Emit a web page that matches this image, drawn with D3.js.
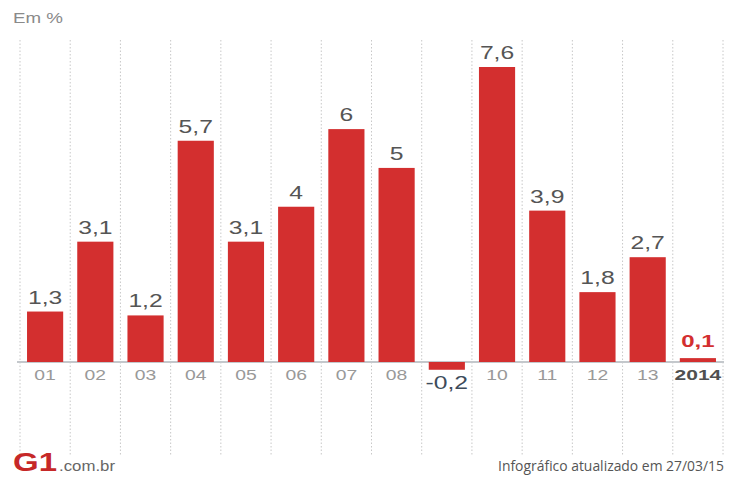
<!DOCTYPE html>
<html>
<head>
<meta charset="utf-8">
<script src="https://cdn.jsdelivr.net/npm/d3@7"></script>
<style>
  html, body { margin: 0; padding: 0; background: #fff; }
  svg { display: block; }
</style>
</head>
<body>
<script>
// Annual change, in percent
const categories = ["01", "02", "03", "04", "05", "06", "07", "08", "09", "10", "11", "12", "13", "2014"];
const values = [1.3, 3.1, 1.2, 5.7, 3.1, 4, 6, 5, -0.2, 7.6, 3.9, 1.8, 2.7, 0.1];
const valueLabels = ["1,3", "3,1", "1,2", "5,7", "3,1", "4", "6", "5", "-0,2", "7,6", "3,9", "1,8", "2,7", "0,1"];
// The negative year shows its value where its tick label would be
const tickLabels = ["01", "02", "03", "04", "05", "06", "07", "08", "", "10", "11", "12", "13", "2014"];

const W = 731, H = 477;
const svg = d3.select("body").append("svg").attr("width", W).attr("height", H);
const font = "'Liberation Sans', Arial, sans-serif";
const highlight = "2014";

const x = d3.scaleBand().domain(categories).range([20, 723]).paddingInner(0.28).paddingOuter(0.14);
const y = d3.scaleLinear().domain([0, 7.6]).range([362, 67]);

// dotted separators between columns
const step = x.step();
const first = x(categories[0]) - (step - x.bandwidth()) / 2;
const seps = d3.range(categories.length + 1).map(i => first + i * step);
svg.append("g").selectAll("line").data(seps).join("line")
  .attr("x1", d => d).attr("x2", d => d)
  .attr("y1", 40).attr("y2", 456)
  .attr("stroke", "#c8c8c8").attr("stroke-width", 1)
  .attr("stroke-dasharray", "1.5,2");

// zero line
svg.append("line")
  .attr("x1", 17).attr("x2", 724).attr("y1", y(0)).attr("y2", y(0))
  .attr("stroke", "#c4c8cc").attr("stroke-width", 2);

// bars
svg.append("g").selectAll("rect").data(values).join("rect")
  .attr("x", (d, i) => x(categories[i]))
  .attr("width", x.bandwidth())
  .attr("y", d => y(Math.max(0, d)))
  .attr("height", d => Math.abs(y(d) - y(0)))
  .attr("fill", "#d32f2f");

// value labels, stretched horizontally
svg.append("g").selectAll("text").data(values).join("text")
  .attr("transform", (d, i) => {
    const cx = x(categories[i]) + x.bandwidth() / 2;
    const hl = categories[i] === highlight;
    const cy = d >= 0 ? y(d) - (hl ? 11 : 8) : y(d) + 19;
    return `translate(${cx},${cy}) scale(${hl ? 1.5 : 1.3},1)`;
  })
  .attr("text-anchor", "middle")
  .attr("font-family", font)
  .attr("font-size", (d, i) => categories[i] === highlight ? 16 : 19)
  .attr("font-weight", (d, i) => categories[i] === highlight ? 700 : 400)
  .attr("fill", (d, i) => categories[i] === highlight ? "#d32f2f" : (d < 0 ? "#3d4b5a" : "#555"))
  .text((d, i) => valueLabels[i]);

// category ticks
const axis = d3.axisBottom(x).tickSize(0).tickPadding(0).tickFormat((d, i) => tickLabels[i]);
const gx = svg.append("g").attr("transform", `translate(0,${y(0) + 18})`).call(axis);
gx.select(".domain").remove();
gx.selectAll("text")
  .attr("dy", 0)
  .attr("y", 0)
  .attr("transform", d => `scale(${d === highlight ? 1.4 : 1.38},1)`)
  .attr("font-family", font)
  .attr("font-size", d => d === highlight ? 15 : 14)
  .attr("font-weight", d => d === highlight ? 700 : 400)
  .attr("fill", d => d === highlight ? "#505050" : "#999");

// unit note
svg.append("text").attr("transform", "translate(13,23) scale(1.25,1)")
  .attr("font-family", font).attr("font-size", 15).attr("fill", "#8a8a8a")
  .text("Em %");

// footer
svg.append("text").attr("x", 13).attr("y", 471)
  .attr("font-family", font).attr("font-size", 25).attr("font-weight", 900)
  .attr("fill", "#c62828").attr("textLength", 44).attr("lengthAdjust", "spacingAndGlyphs")
  .text("G1");
svg.append("text").attr("transform", "translate(59,471) scale(1.2,1)")
  .attr("font-family", font).attr("font-size", 14).attr("fill", "#666").text(".com.br");

svg.append("text").attr("x", 498).attr("y", 471)
  .attr("font-family", "'Open Sans', sans-serif").attr("font-size", 14).attr("fill", "#555")
  .attr("textLength", 226).attr("lengthAdjust", "spacingAndGlyphs")
  .text("Infográfico atualizado em 27/03/15");
</script>
</body>
</html>
